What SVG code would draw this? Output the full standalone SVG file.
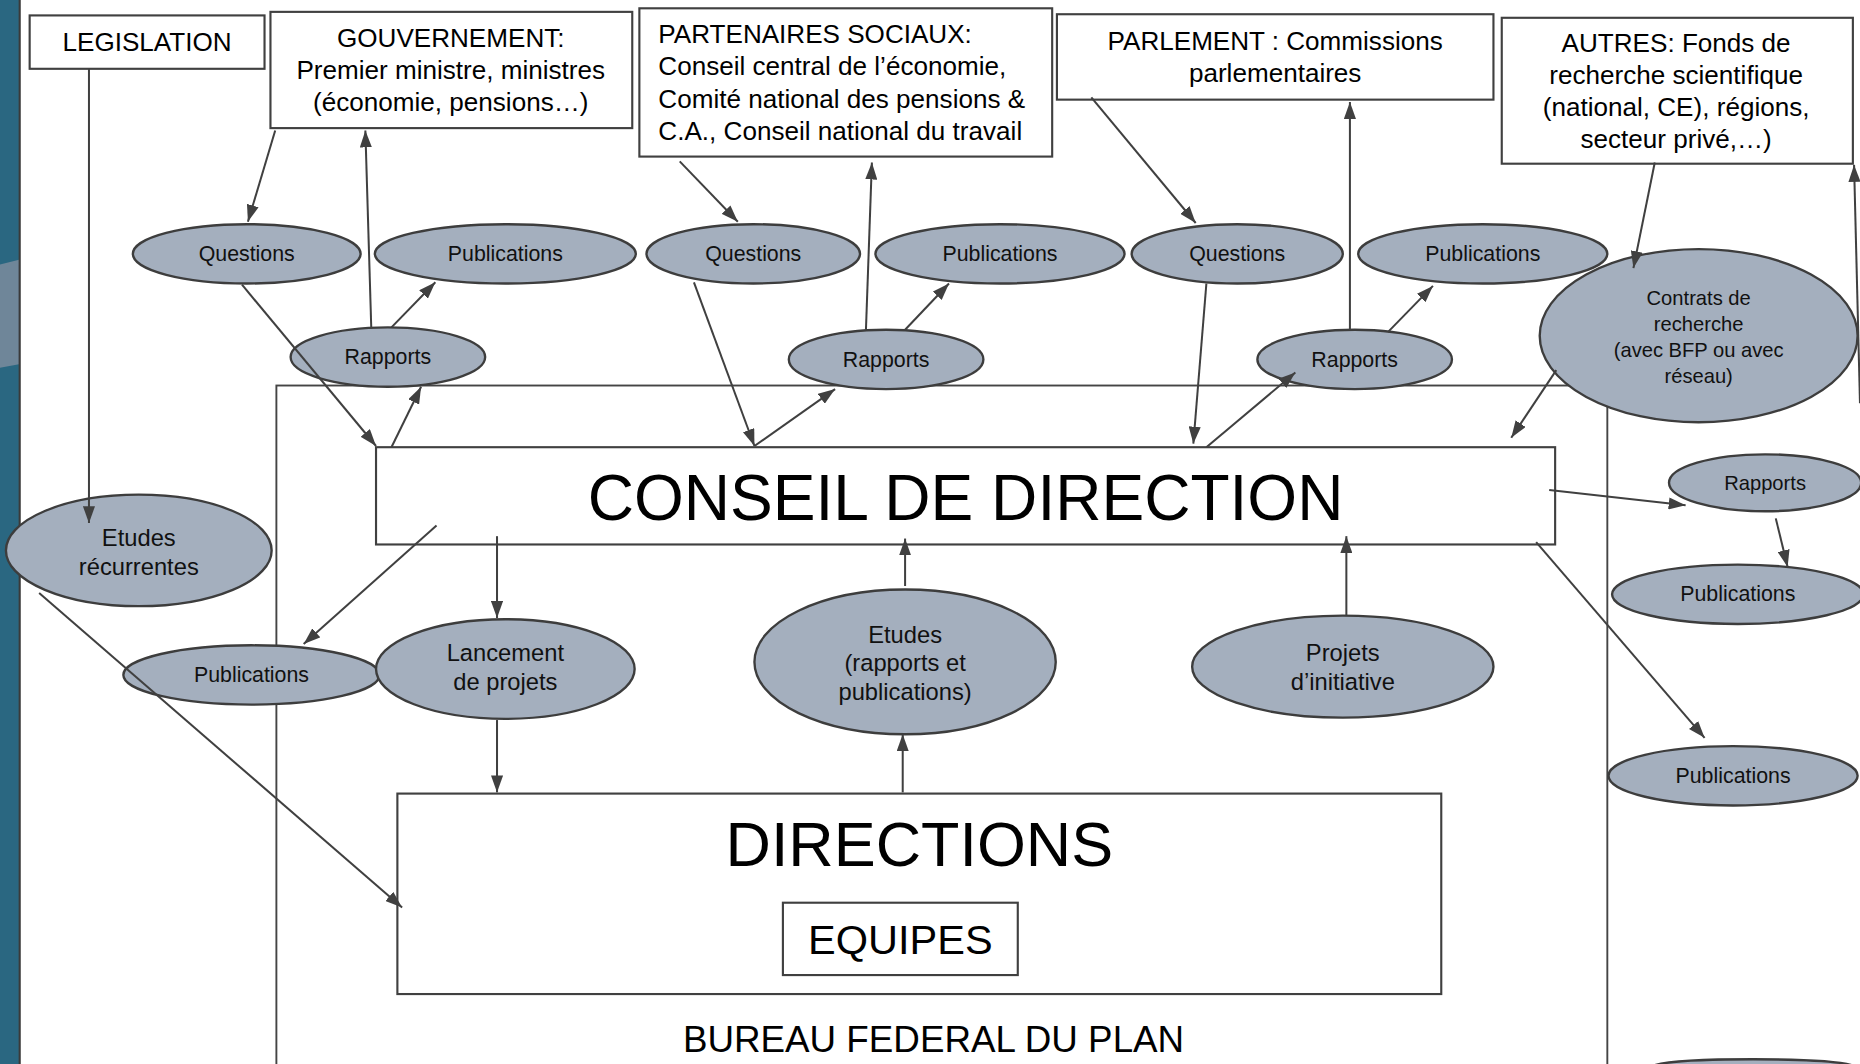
<svg xmlns="http://www.w3.org/2000/svg" width="1860" height="1064" viewBox="0 0 1860 1064">
<defs>
<marker id="ah" viewBox="0 0 14 10" refX="14" refY="5" markerWidth="8.4" markerHeight="6" orient="auto" markerUnits="strokeWidth">
<path d="M0,0 L14,5 L0,10 z" fill="#404040"/>
</marker>
<style>
.box{fill:#ffffff;stroke:#404040;stroke-width:1.8}
.ell{fill:#a4afbe;stroke:#3d3d3d;stroke-width:2}
.t{font-family:"Liberation Sans",Arial,sans-serif;fill:#000;text-anchor:middle}
.tl{font-family:"Liberation Sans",Arial,sans-serif;fill:#000;text-anchor:start}
.b22{font-size:22px}
.s18{font-size:18px;fill:#111}
.s17{font-size:17px;fill:#111}
.s20{font-size:20px;fill:#111}
.con line{stroke:#404040;stroke-width:1.7;marker-end:url(#ah)}
</style>
</defs>
<rect width="1860" height="1064" fill="#ffffff"/>
<g transform="scale(1.18622)">
<g id="background">
<rect x="0" y="0" width="16" height="897" fill="#2a6781"/>
<path d="M0,223 L16,219 L16,307 L0,310 z" fill="#6f8699"/>
<line x1="16.6" y1="0" x2="16.6" y2="897" stroke="#3a3a3a" stroke-width="1.8"/>
</g>
<g id="bfp">
<rect x="233" y="325" width="1122" height="600" fill="none" stroke="#444" stroke-width="1.6"/>
<text class="t" x="787" y="887" style="font-size:31px">BUREAU FEDERAL DU PLAN</text>
</g>
<g id="legislation">
<rect class="box" x="25" y="13" width="198" height="45"/>
<text class="t b22" x="124" y="43">LEGISLATION</text>
</g>
<g id="gouvernement">
<rect class="box" x="228" y="10" width="305" height="98"/>
<text class="t b22" x="380" y="40">GOUVERNEMENT:</text>
<text class="t b22" x="380" y="67">Premier ministre, ministres</text>
<text class="t b22" x="380" y="94">(économie, pensions…)</text>
</g>
<g id="partenaires">
<rect class="box" x="539" y="7" width="348" height="125"/>
<text class="tl b22" x="555" y="36">PARTENAIRES SOCIAUX:</text>
<text class="tl b22" x="555" y="63">Conseil central de l’économie,</text>
<text class="tl b22" x="555" y="91">Comité national des pensions &amp;</text>
<text class="tl b22" x="555" y="118">C.A., Conseil national du travail</text>
</g>
<g id="parlement">
<rect class="box" x="891" y="12" width="368" height="72"/>
<text class="t b22" x="1075" y="42">PARLEMENT : Commissions</text>
<text class="t b22" x="1075" y="69">parlementaires</text>
</g>
<g id="autres">
<rect class="box" x="1266" y="15" width="296" height="123"/>
<text class="t b22" x="1413" y="44">AUTRES: Fonds de</text>
<text class="t b22" x="1413" y="71">recherche scientifique</text>
<text class="t b22" x="1413" y="98">(national, CE), régions,</text>
<text class="t b22" x="1413" y="125">secteur privé,…)</text>
</g>
<g id="conseil">
<rect class="box" x="317" y="377" width="994" height="82"/>
<text class="t" x="814" y="438" style="font-size:54px">CONSEIL DE DIRECTION</text>
</g>
<g id="directions">
<rect class="box" x="335" y="669" width="880" height="169"/>
<text class="t" x="775" y="730" style="font-size:53px">DIRECTIONS</text>
</g>
<g id="equipes">
<rect class="box" x="660" y="761" width="198" height="61"/>
<text class="t" x="759" y="804" style="font-size:35px">EQUIPES</text>
</g>
<g id="questions1"><ellipse class="ell" cx="208" cy="214" rx="96" ry="25"/><text class="t s18" x="208" y="220">Questions</text></g>
<g id="publications1"><ellipse class="ell" cx="426" cy="214" rx="110" ry="25"/><text class="t s18" x="426" y="220">Publications</text></g>
<g id="rapports1"><ellipse class="ell" cx="327" cy="301" rx="82" ry="25"/><text class="t s18" x="327" y="307">Rapports</text></g>
<g id="questions2"><ellipse class="ell" cx="635" cy="214" rx="90" ry="25"/><text class="t s18" x="635" y="220">Questions</text></g>
<g id="publications2"><ellipse class="ell" cx="843" cy="214" rx="105" ry="25"/><text class="t s18" x="843" y="220">Publications</text></g>
<g id="rapports2"><ellipse class="ell" cx="747" cy="303" rx="82" ry="25"/><text class="t s18" x="747" y="309">Rapports</text></g>
<g id="questions3"><ellipse class="ell" cx="1043" cy="214" rx="89" ry="25"/><text class="t s18" x="1043" y="220">Questions</text></g>
<g id="publications3"><ellipse class="ell" cx="1250" cy="214" rx="105" ry="25"/><text class="t s18" x="1250" y="220">Publications</text></g>
<g id="rapports3"><ellipse class="ell" cx="1142" cy="303" rx="82" ry="25"/><text class="t s18" x="1142" y="309">Rapports</text></g>
<g id="contrats"><ellipse class="ell" cx="1432" cy="283" rx="134" ry="73"/>
<text class="t s17" x="1432" y="257">Contrats de</text>
<text class="t s17" x="1432" y="279">recherche</text>
<text class="t s17" x="1432" y="301">(avec BFP ou avec</text>
<text class="t s17" x="1432" y="323">réseau)</text></g>
<g id="rapports4"><ellipse class="ell" cx="1488" cy="407" rx="81" ry="24"/><text class="t s17" x="1488" y="413">Rapports</text></g>
<g id="publications4"><ellipse class="ell" cx="1465" cy="501" rx="106" ry="25"/><text class="t s18" x="1465" y="507">Publications</text></g>
<g id="publications5"><ellipse class="ell" cx="1461" cy="654" rx="105" ry="25"/><text class="t s18" x="1461" y="660">Publications</text></g>
<g id="partial"><path d="M1390,900 Q1400,893 1478,893 Q1556,893 1566,900" fill="#a4afbe" stroke="#3d3d3d" stroke-width="2"/></g>
<g id="etudesrecurrentes"><ellipse class="ell" cx="117" cy="464" rx="112" ry="47"/>
<text class="t s20" x="117" y="460">Etudes</text>
<text class="t s20" x="117" y="485">récurrentes</text></g>
<g id="publications6"><ellipse class="ell" cx="212" cy="569" rx="108" ry="25"/><text class="t s18" x="212" y="575">Publications</text></g>
<g id="lancement"><ellipse class="ell" cx="426" cy="564" rx="109" ry="42"/>
<text class="t s20" x="426" y="557">Lancement</text>
<text class="t s20" x="426" y="582">de projets</text></g>
<g id="etudes"><ellipse class="ell" cx="763" cy="558" rx="127" ry="61"/>
<text class="t s20" x="763" y="542">Etudes</text>
<text class="t s20" x="763" y="566">(rapports et</text>
<text class="t s20" x="763" y="590">publications)</text></g>
<g id="projets"><ellipse class="ell" cx="1132" cy="562" rx="127" ry="43"/>
<text class="t s20" x="1132" y="557">Projets</text>
<text class="t s20" x="1132" y="582">d’initiative</text></g>
<g id="connectors" class="con">
<line x1="75" y1="58" x2="75" y2="441"/>
<line x1="232" y1="110" x2="209" y2="187"/>
<line x1="313" y1="277" x2="308" y2="110"/>
<line x1="330" y1="276" x2="367" y2="238"/>
<line x1="204" y1="240" x2="317" y2="376"/>
<line x1="330" y1="377" x2="355" y2="326"/>
<line x1="573" y1="136" x2="622" y2="187"/>
<line x1="730" y1="278" x2="735" y2="137"/>
<line x1="763" y1="278" x2="800" y2="239"/>
<line x1="585" y1="238" x2="636" y2="376"/>
<line x1="636" y1="376" x2="704" y2="328"/>
<line x1="920" y1="82" x2="1008" y2="188"/>
<line x1="1138" y1="278" x2="1138" y2="86"/>
<line x1="1170" y1="280" x2="1208" y2="241"/>
<line x1="1017" y1="239" x2="1006" y2="374"/>
<line x1="1017" y1="377" x2="1092" y2="314"/>
<line x1="1395" y1="137" x2="1377" y2="226"/>
<line x1="1312" y1="312" x2="1274" y2="369"/>
<line x1="1568" y1="340" x2="1563" y2="139"/>
<line x1="1306" y1="413" x2="1421" y2="426"/>
<line x1="1497" y1="437" x2="1507" y2="478"/>
<line x1="1295" y1="457" x2="1437" y2="622"/>
<line x1="368" y1="443" x2="256" y2="543"/>
<line x1="419" y1="452" x2="419" y2="521"/>
<line x1="419" y1="607" x2="419" y2="668"/>
<line x1="763" y1="494" x2="763" y2="454"/>
<line x1="761" y1="668" x2="761" y2="619"/>
<line x1="1135" y1="519" x2="1135" y2="452"/>
<line x1="33" y1="500" x2="339" y2="765"/>
</g>
</g>
</svg>
